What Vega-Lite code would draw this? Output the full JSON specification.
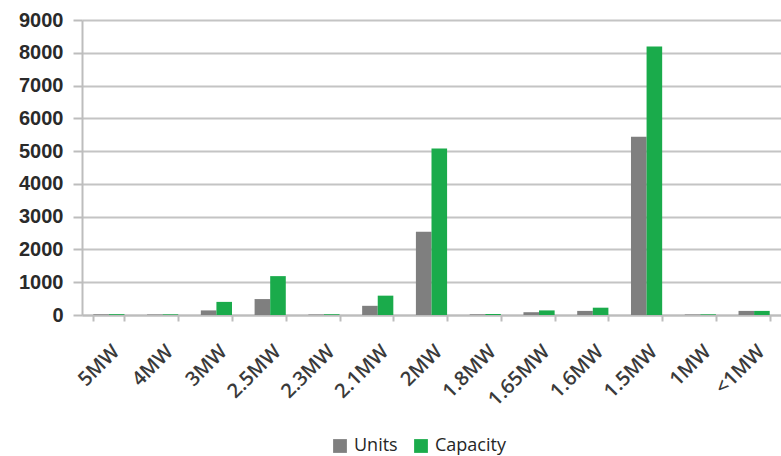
{
  "$schema": "https://vega.github.io/schema/vega-lite/v6.json",
  "autosize": "none",
  "width": 699,
  "height": 295,
  "padding": {"left": 82, "top": 20, "right": 0, "bottom": 141},
  "background": "white",
  "data": {"values": [
    {"size": "5MW", "series": "Units", "value": 20},
    {"size": "5MW", "series": "Capacity", "value": 25},
    {"size": "4MW", "series": "Units", "value": 15},
    {"size": "4MW", "series": "Capacity", "value": 20},
    {"size": "3MW", "series": "Units", "value": 140},
    {"size": "3MW", "series": "Capacity", "value": 400},
    {"size": "2.5MW", "series": "Units", "value": 486},
    {"size": "2.5MW", "series": "Capacity", "value": 1186},
    {"size": "2.3MW", "series": "Units", "value": 15},
    {"size": "2.3MW", "series": "Capacity", "value": 20},
    {"size": "2.1MW", "series": "Units", "value": 280},
    {"size": "2.1MW", "series": "Capacity", "value": 590},
    {"size": "2MW", "series": "Units", "value": 2540},
    {"size": "2MW", "series": "Capacity", "value": 5080},
    {"size": "1.8MW", "series": "Units", "value": 20},
    {"size": "1.8MW", "series": "Capacity", "value": 30},
    {"size": "1.65MW", "series": "Units", "value": 85},
    {"size": "1.65MW", "series": "Capacity", "value": 140},
    {"size": "1.6MW", "series": "Units", "value": 125},
    {"size": "1.6MW", "series": "Capacity", "value": 223},
    {"size": "1.5MW", "series": "Units", "value": 5440},
    {"size": "1.5MW", "series": "Capacity", "value": 8190},
    {"size": "1MW", "series": "Units", "value": 15},
    {"size": "1MW", "series": "Capacity", "value": 20},
    {"size": "<1MW", "series": "Units", "value": 125},
    {"size": "<1MW", "series": "Capacity", "value": 125}
  ]},
  "mark": {"type": "bar"},
  "encoding": {
    "x": {
      "field": "size", "type": "nominal", "sort": null,
      "scale": {"paddingInner": 0.42, "paddingOuter": 0.21},
      "axis": {
        "title": null, "labelAngle": -45, "labelFont": "Open Sans", "labelFontSize": 20,
        "labelFontWeight": 600,
        "labelColor": "#3a3a3a", "domainColor": "#bdbdbd", "domainWidth": 2,
        "tickColor": "#bdbdbd", "tickWidth": 2, "tickSize": 6, "tickBand": "extent",
        "labelPadding": 20
      }
    },
    "xOffset": {"field": "series", "type": "nominal", "sort": ["Units", "Capacity"], "scale": {"paddingInner": 0}},
    "y": {
      "field": "value", "type": "quantitative",
      "scale": {"domain": [0, 9000], "nice": false},
      "axis": {
        "title": null, "values": [0,1000,2000,3000,4000,5000,6000,7000,8000,9000],
        "format": "d",
        "labelFont": "Liberation Sans", "labelFontWeight": "bold", "labelFontSize": 20,
        "labelColor": "#2a2a2a", "domainColor": "#bdbdbd", "domainWidth": 2,
        "tickColor": "#bdbdbd", "tickWidth": 2, "tickSize": 9, "labelPadding": 10,
        "gridColor": "#c4c4c4", "gridWidth": 2
      }
    },
    "color": {
      "field": "series", "type": "nominal", "sort": ["Units", "Capacity"],
      "scale": {"domain": ["Units", "Capacity"], "range": ["#7f7f7f", "#1aab4b"]},
      "legend": {
        "title": null, "orient": "none", "direction": "horizontal",
        "legendX": 249, "legendY": 417, "symbolType": "square", "symbolSize": 190,
        "symbolStrokeWidth": 0, "labelFont": "Open Sans", "labelFontSize": 18,
        "labelColor": "#262626", "columnPadding": 14, "symbolOffset": 0, "labelOffset": 5
      }
    }
  },
  "config": {"view": {"stroke": null}, "axis": {"labelFlush": false}}
}
